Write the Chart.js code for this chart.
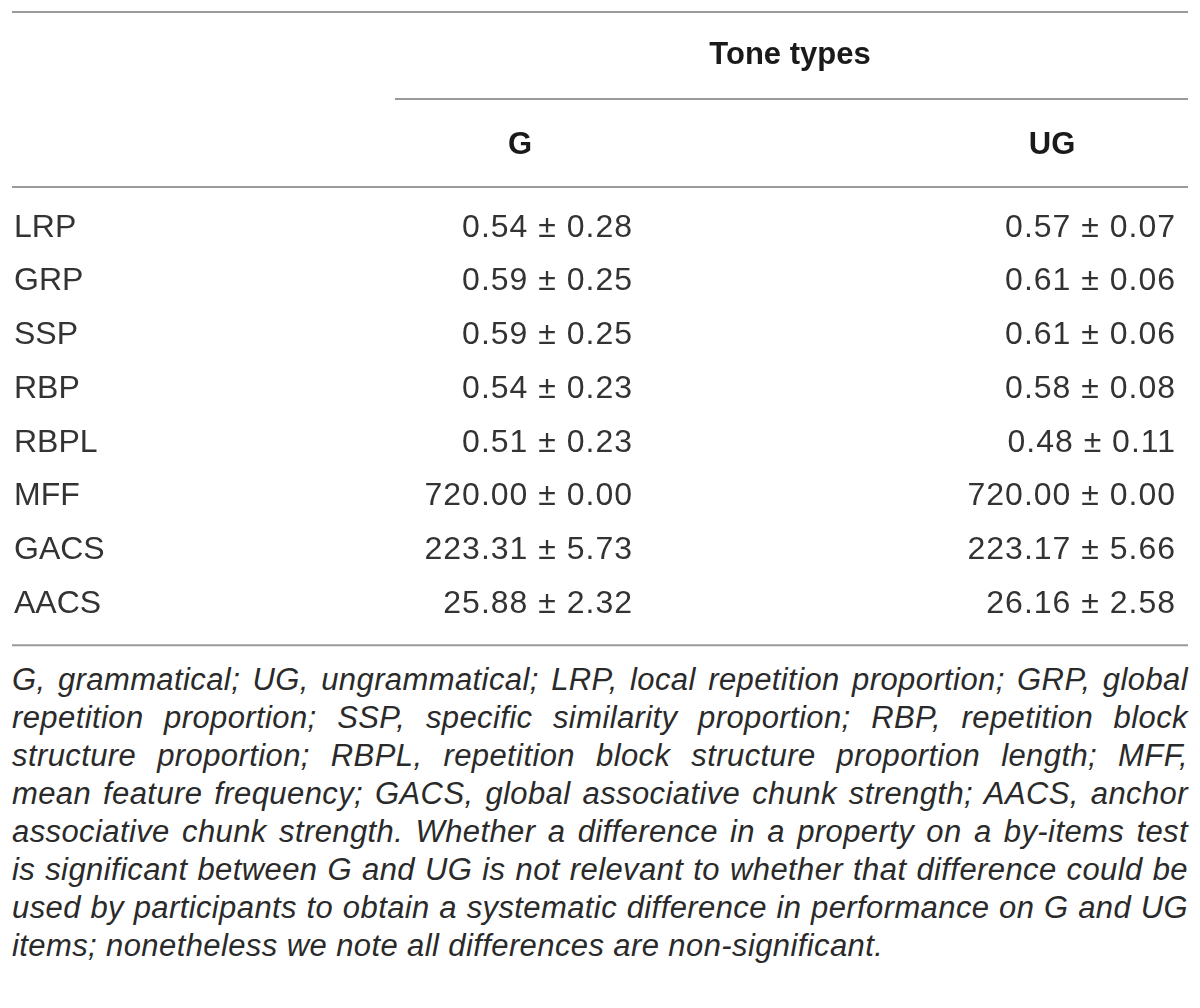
<!DOCTYPE html>
<html lang="en">

<head>
  <meta charset="UTF-8">
  <title>Tone types table</title>
  <script src="https://cdn.jsdelivr.net/npm/chart.js"></script>
  <style>
    body { margin: 0; background: #fff; font-family: "Liberation Sans", Arial, sans-serif; }
    #wrap { position: relative; width: 1200px; height: 1008px; }
    #table { position: absolute; left: 0; top: 0; }
    #note { position: absolute; left: 12px; top: 661px; width: 1176px; font-style: italic; font-size: 31px; letter-spacing: 0.4px; line-height: 38px; color: #2a2a2a; }
    #note div { white-space: nowrap; text-align: justify; text-align-last: justify; }
    #note div.last { text-align-last: left; }
  </style>
</head>

<body>

  <div id="wrap">
    <canvas id="table" width="1200" height="650"></canvas>
    <div id="note"></div>
  </div>

  <script>
    // table data
    const groupLabel = 'Tone types';
    const columnLabels = ['G', 'UG'];
    const rowLabels = ['LRP', 'GRP', 'SSP', 'RBP', 'RBPL', 'MFF', 'GACS', 'AACS'];
    const gMean = [0.54, 0.59, 0.59, 0.54, 0.51, 720.00, 223.31, 25.88];
    const gSd = [0.28, 0.25, 0.25, 0.23, 0.23, 0.00, 5.73, 2.32];
    const ugMean = [0.57, 0.61, 0.61, 0.58, 0.48, 720.00, 223.17, 26.16];
    const ugSd = [0.07, 0.06, 0.06, 0.08, 0.11, 0.00, 5.66, 2.58];
    const noteLines = [
      'G, grammatical; UG, ungrammatical; LRP, local repetition proportion; GRP, global',
      'repetition proportion; SSP, specific similarity proportion; RBP, repetition block',
      'structure proportion; RBPL, repetition block structure proportion length; MFF,',
      'mean feature frequency; GACS, global associative chunk strength; AACS, anchor',
      'associative chunk strength. Whether a difference in a property on a by-items test',
      'is significant between G and UG is not relevant to whether that difference could be',
      'used by participants to obtain a systematic difference in performance on G and UG',
      'items; nonetheless we note all differences are non-significant.'
    ];

    const cells = [
      gMean.map((m, i) => `${m.toFixed(2)} \u00b1 ${gSd[i].toFixed(2)}`),
      ugMean.map((m, i) => `${m.toFixed(2)} \u00b1 ${ugSd[i].toFixed(2)}`)
    ];

    // column anchors on the x scale (0..1200)
    const colRight = [632, 1175];
    const colCenter = [520, 1052];
    const labelLeft = 14;

    const tablePlugin = {
      id: 'tableCells',
      afterDraw(chart) {
        const { ctx, scales: { x, y } } = chart;
        const first = y.getPixelForValue(0);
        const last = y.getPixelForValue(rowLabels.length - 1);

        ctx.save();
        // rules
        ctx.strokeStyle = '#9a9a9a';
        ctx.lineWidth = 2;
        const rule = (x0, x1, py) => {
          ctx.beginPath();
          ctx.moveTo(x.getPixelForValue(x0), py);
          ctx.lineTo(x.getPixelForValue(x1), py);
          ctx.stroke();
        };
        rule(12, 1188, 12);
        rule(395, 1188, 99);
        rule(12, 1188, first - 41);
        rule(12, 1188, last + 41);

        // headers
        ctx.fillStyle = '#1a1a1a';
        ctx.textBaseline = 'middle';
        ctx.textAlign = 'center';
        ctx.font = 'bold 31px "Liberation Sans", Arial, sans-serif';
        ctx.fillText(groupLabel, x.getPixelForValue(790), 55);
        columnLabels.forEach((c, j) => ctx.fillText(c, x.getPixelForValue(colCenter[j]), 145));

        // rows
        ctx.font = '32px "Liberation Sans", Arial, sans-serif';
        ctx.fillStyle = '#333';
        rowLabels.forEach((r, i) => {
          const py = y.getPixelForValue(i);
          ctx.textAlign = 'left';
          ctx.letterSpacing = '0px';
          ctx.fillText(r, x.getPixelForValue(labelLeft), py);
          ctx.textAlign = 'right';
          ctx.letterSpacing = '1px';
          cells.forEach((col, j) => ctx.fillText(col[i], x.getPixelForValue(colRight[j]) + 1, py));
        });
        ctx.restore();
      }
    };

    new Chart(document.getElementById('table'), {
      type: 'bar',
      data: { labels: rowLabels, datasets: [] },
      options: {
        indexAxis: 'y',
        responsive: false,
        animation: false,
        layout: { padding: { top: 201, bottom: 19, left: 0, right: 0 } },
        scales: {
          x: { type: 'linear', min: 0, max: 1200, display: false },
          y: { type: 'category', offset: true, display: false }
        },
        plugins: { legend: { display: false }, tooltip: { enabled: false } }
      },
      plugins: [tablePlugin]
    });

    const note = document.getElementById('note');
    noteLines.forEach((t, i) => {
      const d = document.createElement('div');
      d.textContent = t;
      if (i === noteLines.length - 1) d.className = 'last';
      note.appendChild(d);
    });
  </script>

</body>

</html>
